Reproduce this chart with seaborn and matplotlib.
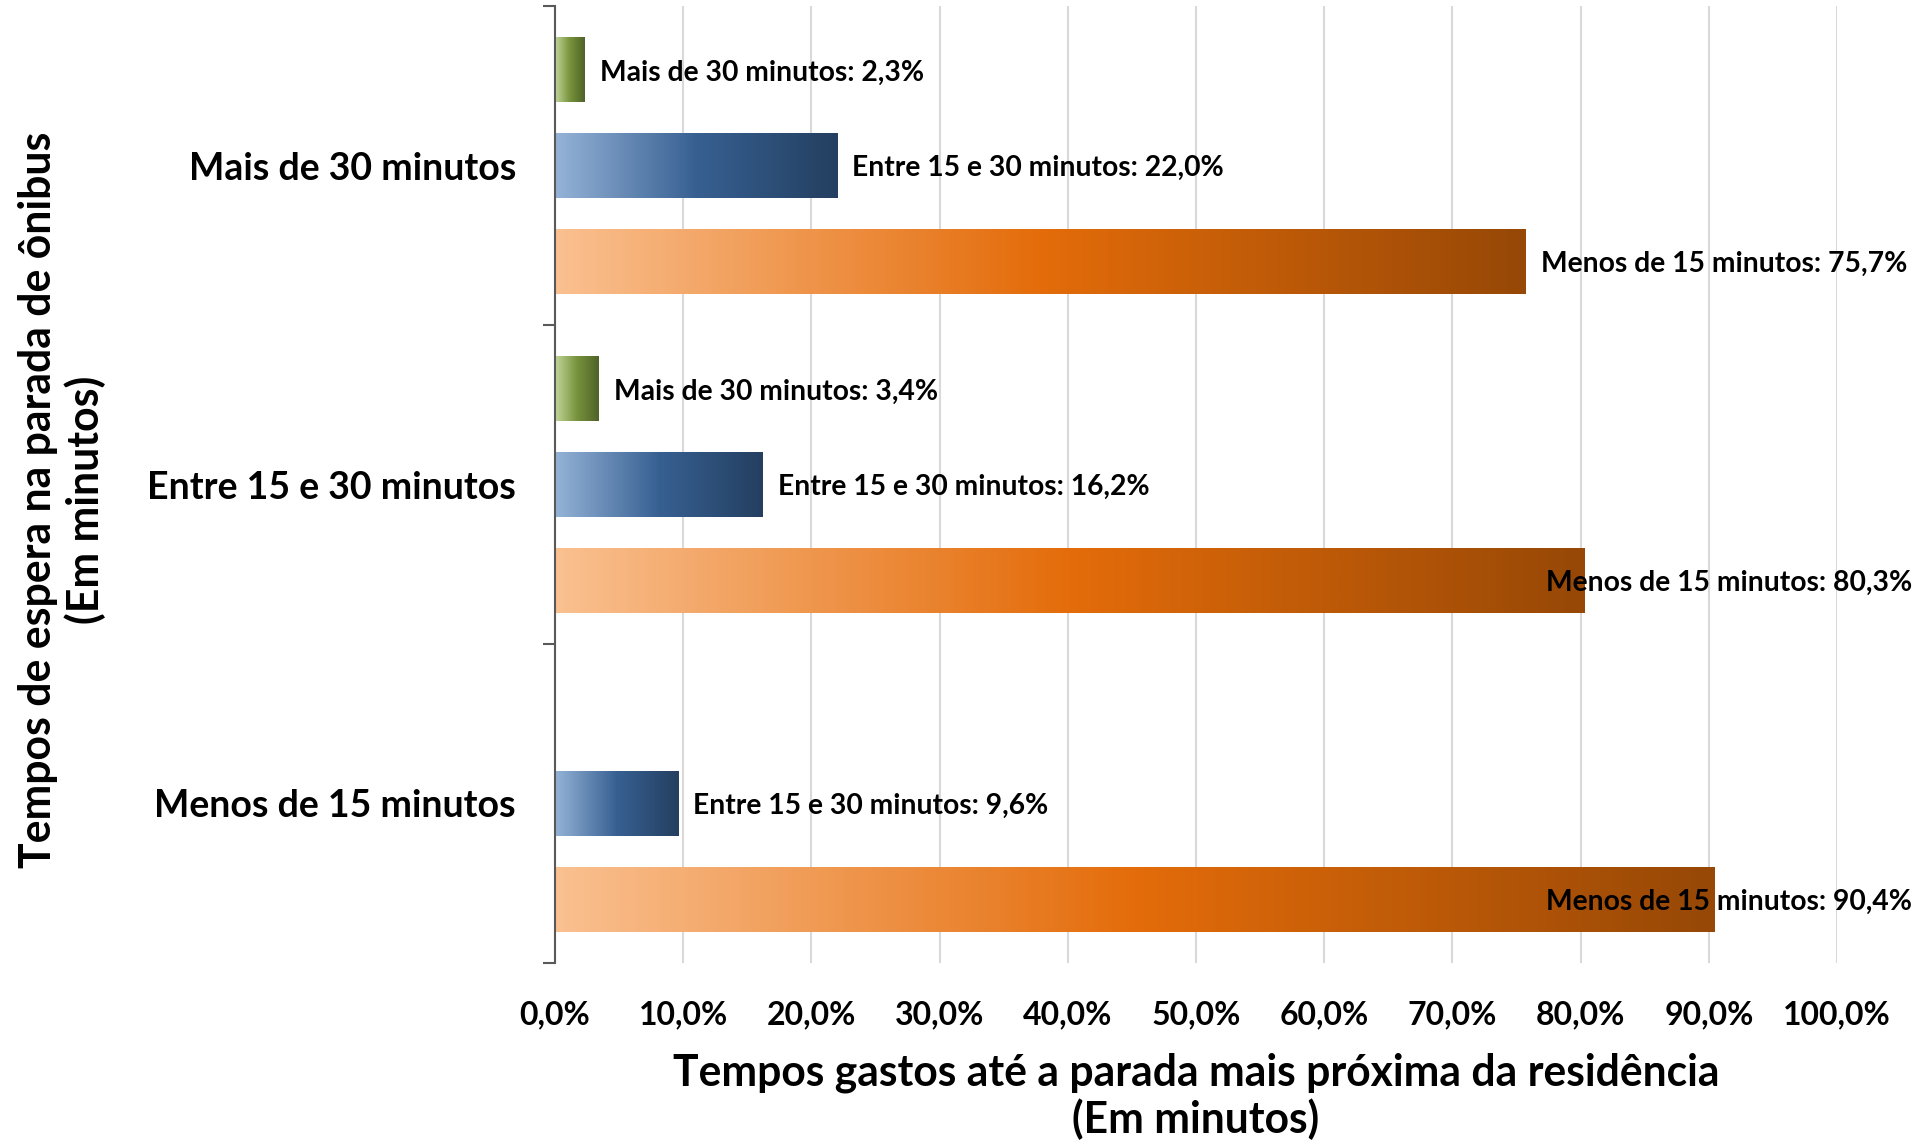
import numpy as np
import pandas as pd
import matplotlib.pyplot as plt
import seaborn as sns
from matplotlib.colors import LinearSegmentedColormap

# Data
categories = ["Mais de 30 minutos", "Entre 15 e 30 minutos", "Menos de 15 minutos"]
series = ["Mais de 30 minutos", "Entre 15 e 30 minutos", "Menos de 15 minutos"]
mais_30 = [2.3, 3.4, np.nan]
entre_15_30 = [22.0, 16.2, 9.6]
menos_15 = [75.7, 80.3, 90.4]
x_ticks = [0, 10, 20, 30, 40, 50, 60, 70, 80, 90, 100]

rows = []
for serie, vals in zip(series, [mais_30, entre_15_30, menos_15]):
    for cat, v in zip(categories, vals):
        rows.append({"espera": cat, "serie": serie, "valor": v})
df = pd.DataFrame(rows).dropna()

gradients = {
    "Mais de 30 minutos": ["#C3D69B", "#77933C", "#4F6228"],
    "Entre 15 e 30 minutos": ["#95B3D7", "#376092", "#243F60"],
    "Menos de 15 minutos": ["#FAC090", "#E46C0A", "#974806"],
}

sns.set_theme(style="white")
plt.rcParams["font.family"] = ["Lato", "DejaVu Sans"]
plt.rcParams["font.weight"] = "bold"
plt.rcParams["text.color"] = "black"
plt.rcParams["xtick.color"] = "black"
plt.rcParams["ytick.color"] = "black"

fig = plt.figure(figsize=(19.17, 11.45), dpi=100)
ax = fig.add_axes([0.2895, 0.159, 0.6688, 0.8357])

sns.barplot(data=df, y="espera", x="valor", hue="serie", order=categories,
            hue_order=series, orient="h", width=0.9, gap=0.32, saturation=1,
            palette=[g[1] for g in gradients.values()], legend=False, ax=ax)

ax.set_xlim(0, 100)
ax.set_ylim(2.5, -0.5)

# gradient fill on each bar
grad = np.linspace(0, 1, 256).reshape(1, -1)
labels = []
for serie, cont in zip(series, ax.containers):
    cmap = LinearSegmentedColormap.from_list(serie, gradients[serie])
    for bar in cont:
        w = bar.get_width()
        if np.isnan(w):
            continue
        x0, y0, h = bar.get_x(), bar.get_y(), bar.get_height()
        im = ax.imshow(grad, cmap=cmap, extent=[x0, x0 + w, y0 + h, y0],
                       aspect="auto", interpolation="bicubic", zorder=2)
        im.set_clip_path(bar)
        bar.set_facecolor("none")
        bar.set_edgecolor("none")
        txt = f"{serie}: {w:.1f}".replace(".", ",") + "%"
        ann = ax.annotate(txt, xy=(x0 + w, y0 + h / 2), xytext=(11, -2),
                          textcoords="offset points", va="center", ha="left",
                          fontsize=20.3, fontweight="bold", color="black",
                          zorder=5, annotation_clip=False)
        labels.append(ann)

ax.set_xlim(0, 100)
ax.set_ylim(2.5, -0.5)

ax.set_xticks(x_ticks)
ax.set_xticklabels([f"{t:.1f}".replace(".", ",") + "%" for t in x_ticks],
                   fontsize=23, fontweight="bold")
ax.tick_params(axis="x", length=0, pad=27)
ax.xaxis.grid(True, color="#D9D9D9", linewidth=1.5)
ax.set_axisbelow(True)

ax.set_yticks([0, 1, 2])
ax.set_yticklabels(categories, fontsize=27, fontweight="bold")
ax.set_yticks([-0.5, 0.5, 1.5, 2.5], minor=True)
ax.tick_params(axis="y", which="major", length=0, pad=28)
ax.tick_params(axis="y", which="minor", length=9, width=1.5, color="#595959",
               left=True)
ax.set_xlabel("")
ax.set_ylabel("")

for s in ["top", "right", "bottom"]:
    ax.spines[s].set_visible(False)
ax.spines["left"].set_color("#595959")
ax.spines["left"].set_linewidth(1.5)

fig.text(1196 / 1917, 1 - 1096 / 1145,
         "Tempos gastos até a parada mais próxima da residência\n(Em minutos)",
         ha="center", va="center", fontsize=30.7, fontweight="bold",
         multialignment="center", linespacing=1.15)
fig.text(62 / 1917, 1 - 500 / 1145,
         "Tempos de espera na parada de ônibus\n(Em minutos)",
         ha="center", va="center", rotation=90, fontsize=30.8,
         fontweight="bold", multialignment="center", linespacing=1.2)

# keep data labels inside the figure, as the original does
fig.canvas.draw()
renderer = fig.canvas.get_renderer()
right_limit = 1912
for ann in labels:
    bb = ann.get_window_extent(renderer)
    if bb.x1 > right_limit:
        dx = (right_limit - bb.x1) * 72 / fig.dpi
        ann.xyann = (ann.xyann[0] + dx, ann.xyann[1])

fig.savefig("out.png", dpi=100)
